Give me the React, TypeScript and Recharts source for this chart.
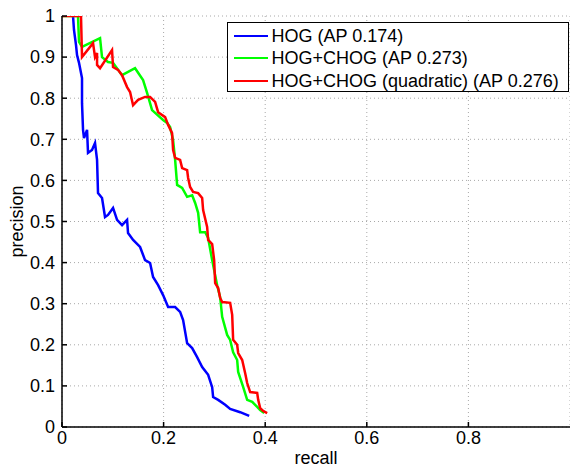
import React from 'react';
import { LineChart, Line, XAxis, YAxis, CartesianGrid, Legend, Label } from 'recharts';

const FONT = '"Liberation Sans", Arial, Helvetica, sans-serif';

const xTicks = [0, 0.2, 0.4, 0.6, 0.8];
const yTicks = [0, 0.1, 0.2, 0.3, 0.4, 0.5, 0.6, 0.7, 0.8, 0.9, 1];

const seriesNames = ['HOG (AP 0.174)', 'HOG+CHOG (AP 0.273)', 'HOG+CHOG (quadratic) (AP 0.276)'];
const seriesColors = ['#0000ff', '#00ff00', '#ff0000'];

const hogRecall = [0.0217, 0.0236, 0.0276, 0.0296, 0.0335, 0.0394, 0.0394, 0.0414, 0.0433, 0.0493, 0.0512, 0.0591, 0.065, 0.069, 0.0709, 0.0788, 0.0847, 0.0906, 0.1005, 0.1084, 0.1182, 0.1281, 0.13, 0.14, 0.1537, 0.1635, 0.1734, 0.1793, 0.1892, 0.199, 0.2089, 0.2227, 0.2325, 0.2384, 0.2463, 0.2562, 0.266, 0.2759, 0.2877, 0.2956, 0.2975, 0.3074, 0.3212, 0.331, 0.3507, 0.3685];
const hogPrecision = [1.0, 0.966, 0.929, 0.905, 0.886, 0.849, 0.788, 0.723, 0.703, 0.723, 0.667, 0.674, 0.691, 0.65, 0.569, 0.557, 0.511, 0.516, 0.533, 0.504, 0.491, 0.504, 0.472, 0.455, 0.438, 0.406, 0.399, 0.365, 0.345, 0.321, 0.292, 0.292, 0.28, 0.26, 0.204, 0.192, 0.17, 0.146, 0.127, 0.097, 0.073, 0.066, 0.054, 0.044, 0.036, 0.027];

const chogRecall = [0, 0.0315, 0.0335, 0.0394, 0.0749, 0.0788, 0.0906, 0.1005, 0.1182, 0.1438, 0.1596, 0.1675, 0.1773, 0.199, 0.2069, 0.2128, 0.2187, 0.2227, 0.2266, 0.2365, 0.2463, 0.2562, 0.2621, 0.268, 0.2719, 0.2818, 0.2877, 0.2956, 0.3054, 0.3113, 0.3153, 0.3251, 0.331, 0.3369, 0.3448, 0.3468, 0.3567, 0.3645, 0.3744, 0.3842, 0.3901, 0.398];
const chogPrecision = [1, 1, 0.937, 0.925, 0.946, 0.9, 0.888, 0.886, 0.856, 0.873, 0.844, 0.813, 0.771, 0.747, 0.74, 0.73, 0.698, 0.65, 0.589, 0.582, 0.56, 0.564, 0.545, 0.521, 0.474, 0.474, 0.46, 0.406, 0.345, 0.316, 0.268, 0.224, 0.212, 0.182, 0.163, 0.134, 0.097, 0.066, 0.061, 0.049, 0.041, 0.034];

const quadRecall = [0, 0.0374, 0.0394, 0.0611, 0.065, 0.069, 0.069, 0.0749, 0.0985, 0.1005, 0.1103, 0.1182, 0.1281, 0.134, 0.1399, 0.1498, 0.1635, 0.1734, 0.1833, 0.1892, 0.203, 0.2089, 0.2167, 0.2187, 0.2227, 0.2325, 0.2365, 0.2463, 0.2483, 0.2522, 0.2581, 0.268, 0.2759, 0.2778, 0.2857, 0.2877, 0.2956, 0.2995, 0.3015, 0.3074, 0.3113, 0.3153, 0.331, 0.335, 0.3369, 0.3448, 0.3468, 0.3547, 0.3606, 0.3645, 0.3704, 0.3842, 0.3862, 0.3901, 0.396, 0.4039];
const quadPrecision = [1, 1, 0.9, 0.934, 0.9, 0.91, 0.881, 0.873, 0.917, 0.876, 0.869, 0.856, 0.827, 0.815, 0.783, 0.796, 0.803, 0.803, 0.791, 0.766, 0.754, 0.735, 0.715, 0.674, 0.655, 0.65, 0.63, 0.625, 0.606, 0.584, 0.572, 0.569, 0.557, 0.528, 0.487, 0.455, 0.445, 0.406, 0.35, 0.338, 0.314, 0.304, 0.302, 0.273, 0.212, 0.2, 0.18, 0.163, 0.131, 0.107, 0.085, 0.083, 0.066, 0.046, 0.039, 0.034];

const zip = (r: number[], p: number[]) => r.map((v, i) => ({ r: v, p: p[i] }));
const seriesData = [zip(hogRecall, hogPrecision), zip(chogRecall, chogPrecision), zip(quadRecall, quadPrecision)];

const LegendBox = () => (
  <div
    style={{
      width: 340,
      height: 68,
      border: '1.5px solid #000',
      background: '#fff',
      fontFamily: FONT,
      fontSize: 18,
      color: '#000',
      position: 'relative',
    }}
  >
    {seriesNames.map((name, i) => (
      <div
        key={name}
        style={{
          position: 'absolute',
          left: 5.5,
          top: 1.5 + i * 22.5,
          height: 22,
          display: 'flex',
          alignItems: 'center',
          whiteSpace: 'nowrap',
        }}
      >
        <svg width={34} height={4} style={{ display: 'block' }}>
          <line x1={0} x2={34} y1={2} y2={2} stroke={seriesColors[i]} strokeWidth={2} />
        </svg>
        <span style={{ marginLeft: 4, lineHeight: '22px' }}>{name}</span>
      </div>
    ))}
  </div>
);

const tickStyle = { fontSize: 18, fill: '#000', fontFamily: FONT };

export default function App() {
  return (
    <div style={{ position: 'absolute', left: 0, top: 0, width: 570, height: 467, background: '#fff' }}>
      <LineChart
        width={570}
        height={467}
        margin={{ top: 16, right: 0, bottom: 0, left: 0 }}
        style={{ fontFamily: FONT }}
      >
        <CartesianGrid stroke="#a8a8a8" strokeDasharray="1 3" strokeWidth={1} />
        <XAxis
          xAxisId="top"
          orientation="top"
          type="number"
          dataKey="r"
          domain={[0, 1]}
          ticks={xTicks}
          height={0}
          tick={false}
          tickSize={-5}
          stroke="#000"
          strokeWidth={1.5}
          allowDataOverflow
        />
        <XAxis
          type="number"
          dataKey="r"
          domain={[0, 1]}
          ticks={xTicks}
          height={40}
          tickSize={-5}
          tickMargin={9}
          tick={tickStyle}
          tickFormatter={(v: number) => String(v)}
          stroke="#000"
          strokeWidth={1.5}
          allowDataOverflow
        >
          <Label value="recall" position="insideBottom" offset={3} style={{ fontSize: 18, fill: '#000', fontFamily: FONT }} />
        </XAxis>
        <YAxis
          type="number"
          domain={[0, 1]}
          ticks={yTicks}
          width={62}
          tickSize={-5}
          tickMargin={12}
          tick={tickStyle}
          tickFormatter={(v: number) => String(v)}
          stroke="#000"
          strokeWidth={1.5}
          allowDataOverflow
        >
          <Label
            content={(props: any) => {
              const vb = props.viewBox || { x: 0, y: 16, width: 62, height: 411 };
              const cx = 23;
              const cy = vb.y + vb.height / 2;
              return (
                <text
                  x={cx}
                  y={cy}
                  transform={`rotate(-90, ${cx}, ${cy})`}
                  textAnchor="middle"
                  style={{ fontSize: 18, fill: '#000', fontFamily: FONT }}
                >
                  precision
                </text>
              );
            }}
          />
        </YAxis>
        {seriesData.map((d, i) => (
          <Line
            key={seriesNames[i]}
            data={d}
            dataKey="p"
            name={seriesNames[i]}
            type="linear"
            stroke={seriesColors[i]}
            strokeWidth={2.5}
            dot={false}
            activeDot={false}
            isAnimationActive={false}
          />
        ))}
        <Legend
          layout="horizontal"
          verticalAlign="middle"
          align="center"
          width={344}
          wrapperStyle={{ left: 227, top: 22, width: 344, height: 72 }}
          content={() => <LegendBox />}
        />
      </LineChart>
    </div>
  );
}
